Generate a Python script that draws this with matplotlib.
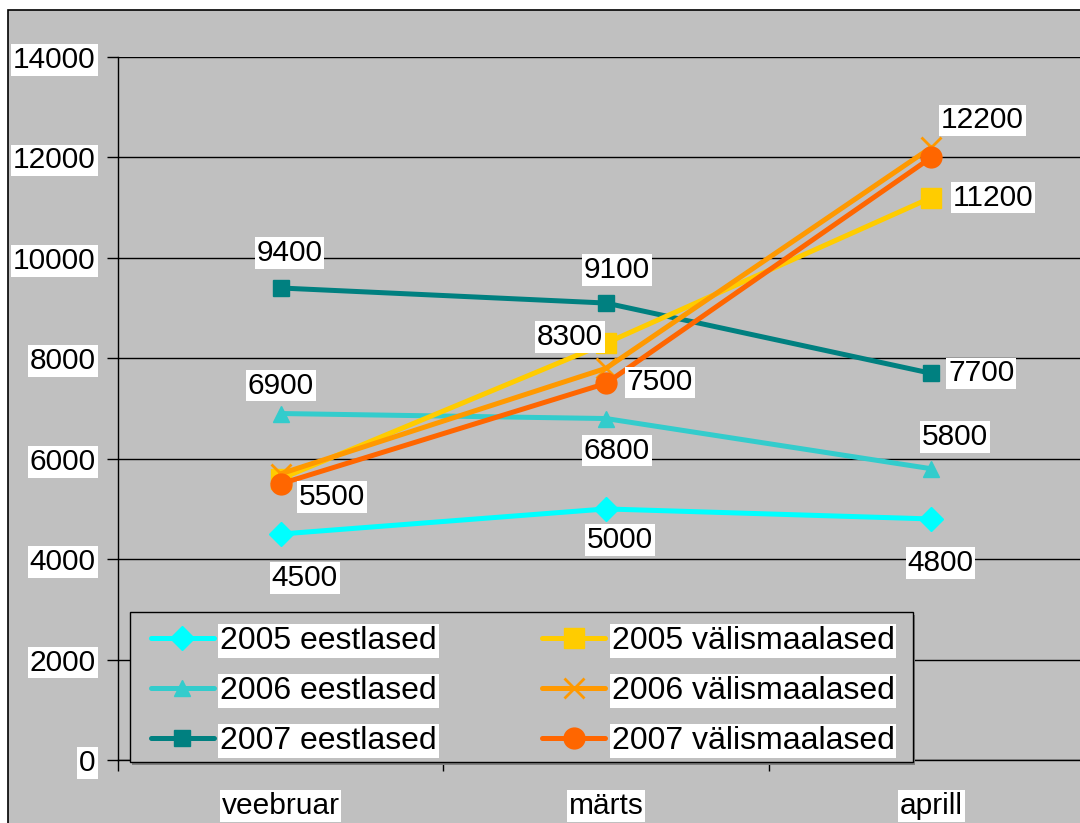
import matplotlib
matplotlib.use("Agg")
import matplotlib.pyplot as plt
from matplotlib.patches import Rectangle

plt.rcParams['font.family'] = ['Liberation Sans', 'DejaVu Sans']

months = ["veebruar", "märts", "aprill"]
eest_2005 = [4500, 5000, 4800]
eest_2006 = [6900, 6800, 5800]
eest_2007 = [9400, 9100, 7700]
valis_2005 = [5600, 8300, 11200]
valis_2006 = [5700, 7800, 12200]
valis_2007 = [5500, 7500, 12000]

series = [
    ("2005 eestlased", eest_2005, "#00FFFF", "D", 12),
    ("2006 eestlased", eest_2006, "#33CCCC", "^", 12),
    ("2007 eestlased", eest_2007, "#008080", "s", 11),
    ("2005 välismaalased", valis_2005, "#FFCC00", "s", 14),
    ("2006 välismaalased", valis_2006, "#FF9900", "x", 14),
    ("2007 välismaalased", valis_2007, "#FF6600", "o", 15),
]

# which data labels are visible: (series index, point index, dx px, dy px)
shown_labels = [
    (0, 0, 24, -44), (0, 1, 14, -31), (0, 2, 9, -44),
    (1, 0, 0, 28), (1, 1, 11, -32), (1, 2, 24, 32),
    (2, 0, 9, 35), (2, 1, 11, 33), (2, 2, 50, 0),
    (3, 1, -36, 6), (3, 2, 62, 0),
    (4, 2, 51, 27),
    (5, 0, 51, -13), (5, 1, 54, 1),
]

FS = 21.5
white_box = dict(facecolor="white", edgecolor="none", boxstyle="square,pad=0.06")

fig = plt.figure(figsize=(10.8, 8.23), dpi=100)
fig.patch.set_facecolor("white")
fig.patches.append(Rectangle((8 / 1080, -0.1), 1.2, 1.1 - 10 / 823,
                             transform=fig.transFigure, facecolor="#C0C0C0",
                             edgecolor="black", lw=1.2, zorder=-1))

ax = fig.add_axes([118 / 1080, 63 / 823, 976 / 1080, 703 / 823])
ax.set_facecolor("#C0C0C0")

x = range(len(months))
for name, vals, color, marker, ms in series:
    mew = 2 if marker == "x" else 1
    ax.plot(x, vals, color=color, lw=3.6, marker=marker, markersize=ms,
            markeredgewidth=mew, markeredgecolor=color, label=name,
            solid_capstyle="round", zorder=3)

for si, pi, dx, dy in shown_labels:
    vals = series[si][1]
    ax.annotate(str(vals[pi]), xy=(pi, vals[pi]), xytext=(dx, dy),
                textcoords="offset pixels", ha="center", va="center",
                fontsize=FS, bbox=white_box, zorder=5)

ax.set_xlim(-0.5, 2.5)
ax.set_ylim(0, 14000)
ax.set_xticks([-0.5, 0.5, 1.5, 2.5])
ax.set_xticklabels([])
ax.set_xticks(list(x), months, minor=True)
ax.tick_params(axis="x", which="major", length=8, width=1, direction="out")
ax.tick_params(axis="x", which="minor", length=0, pad=23, labelsize=FS)
ax.set_yticks(range(0, 14001, 2000))
ax.tick_params(axis="y", length=8, width=1, pad=8, labelsize=FS)
for lbl in ax.get_xticklabels(minor=True) + ax.get_yticklabels():
    lbl.set_bbox(white_box)

ax.grid(axis="y", color="black", lw=1)
ax.set_axisbelow(True)
for s in ["top", "right"]:
    ax.spines[s].set_visible(False)
for s in ["left", "bottom"]:
    ax.spines[s].set_linewidth(1)

# legend box drawn by hand (Excel style, with a thin shadow)
w_ax = 976
h_ax = 703
ax.add_patch(Rectangle(((132 - 118) / w_ax, (760 - 765) / h_ax), 783 / w_ax, 150 / h_ax,
                       transform=ax.transAxes, facecolor="#808080",
                       edgecolor="none", zorder=6, clip_on=False))
ax.add_patch(Rectangle(((130 - 118) / w_ax, (760 - 762) / h_ax), 783 / w_ax, 150 / h_ax,
                       transform=ax.transAxes, facecolor="#C0C0C0",
                       edgecolor="black", lw=1, zorder=6, clip_on=False))

leg = ax.legend(ncols=2, loc="lower left",
                bbox_to_anchor=((151 - 118) / w_ax, (760 - 756) / h_ax),
                fontsize=23, frameon=False, handlelength=1.97,
                handletextpad=0.2, columnspacing=3.3, labelspacing=0.63,
                borderpad=0, borderaxespad=0)
for t in leg.get_texts():
    t.set_bbox(white_box)
leg.set_zorder(7)

fig.savefig("out.png", dpi=100)
